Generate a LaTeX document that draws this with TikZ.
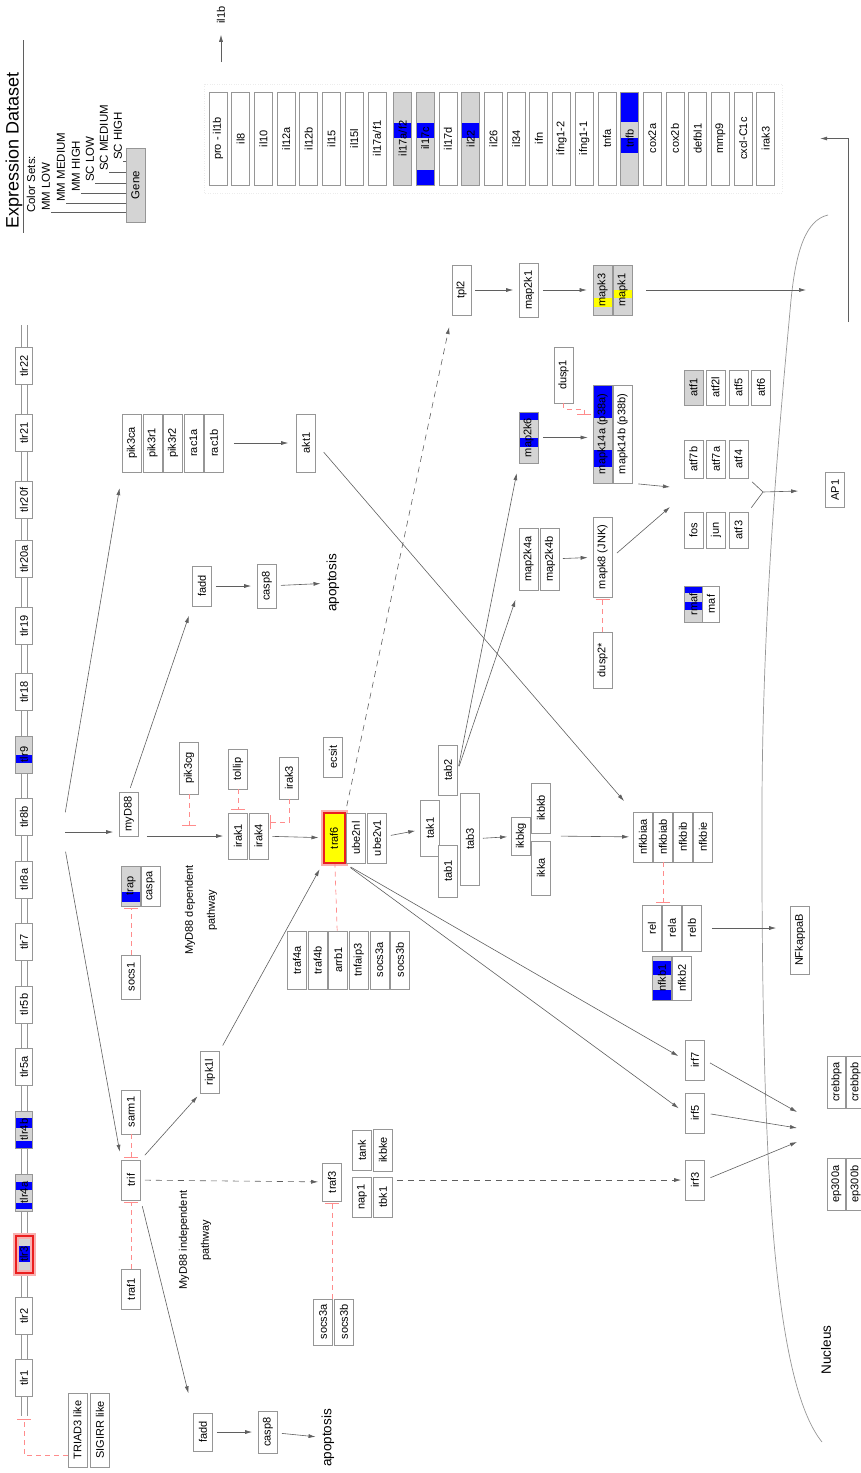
\documentclass[tikz,border=0pt]{standalone}
\usepackage{fontspec}
\setmainfont{Liberation Sans}
\usetikzlibrary{arrows.meta}

\definecolor{boxgray}{RGB}{150,150,150}
\definecolor{linegray}{RGB}{95,95,95}
\definecolor{exgray}{RGB}{212,212,212}
\definecolor{exblue}{RGB}{0,0,255}
\definecolor{exyellow}{RGB}{255,255,0}
\definecolor{inhpink}{RGB}{255,140,140}
\definecolor{hired}{RGB}{235,30,30}

\newcommand{\genefont}{\fontsize{11}{13}\selectfont}

\tikzset{
  gene/.style={draw=boxgray, line width=0.7pt, fill=white, rotate=90, inner sep=0pt,
    minimum height=19pt, minimum width=#1, font=\genefont},
  gene/.default=40,
  legend/.style={rotate=90, anchor=west, inner sep=1pt, font=\fontsize{11.5}{13}\selectfont},
  biglbl/.style={rotate=90, inner sep=0pt, font=\fontsize{13.5}{16}\selectfont},
  pathlbl/.style={rotate=90, inner sep=0pt, align=center, font=\fontsize{11}{22}\selectfont},
  legline/.style={draw=linegray, line width=0.6pt},
  arr/.style={draw=linegray, line width=0.6pt, -{Latex[length=7pt,width=4pt]}},
  darr/.style={arr, dash pattern=on 6pt off 5pt},
  plain/.style={draw=linegray, line width=0.6pt},
  inh/.style={draw=inhpink, line width=0.7pt, dash pattern=on 5pt off 4pt, -{Bar[width=14pt]}},
  pinkdash/.style={draw=inhpink, line width=0.7pt, dash pattern=on 5pt off 4pt},
  glow/.style={draw=hired, line width=2pt, preaction={draw=hired!35, line width=6pt}},
}

\begin{document}
\begin{tikzpicture}[x=1pt,y=-1pt]
\useasboundingbox (0,0) rectangle (861,1473);

% legend
\node[rotate=90, anchor=west, inner sep=0pt, font=\fontsize{18}{20}\selectfont] (title) at (14,229) {Expression Dataset};
\draw[legline] (23,40) -- (23,233);
\node[legend] (colsets) at (31,214) {Color Sets:};
\node[gene=74, fill=exgray, font=\fontsize{11.5}{13}\selectfont] (genekey) at (135.5,185) {Gene};
\foreach \n/\lab/\lx/\ly in {mmlow/MM LOW/46/212, mmmed/MM MEDIUM/61/203, mmhigh/MM HIGH/76/193,
    sclow/SC LOW/90/183, scmed/SC MEDIUM/104/172, schigh/SC HIGH/118/161} {
  \node[legend] (\n) at (\lx,\ly) {\lab};
  \draw[legline] (\n.south west) -- (genekey.north |- \n.south west);
}

% cytokines and other targets
\draw[gray!15, dotted] (204,84) rectangle (782,193);
\fill[exgray] (393.6,92) rectangle (411.6,185);
\fill[exblue] (393.6,123) rectangle (411.6,138);
\fill[exgray] (416.3,92) rectangle (434.3,185);
\fill[exblue] (416.3,123) rectangle (434.3,138);
\fill[exblue] (416.3,170) rectangle (434.3,185);
\fill[exgray] (461.7,92) rectangle (479.7,185);
\fill[exblue] (461.7,123) rectangle (479.7,138);
\fill[exgray] (620.6,92) rectangle (638.6,185);
\fill[exblue] (620.6,92) rectangle (638.6,122);
\fill[exblue] (620.6,138) rectangle (638.6,153);
\foreach \lab [count=\i from 0] in {pro - il1b, il8, il10, il12a, il12b, il15, il15l, il17a/f1,
    il17a/f2, il17c, il17d, il22, il26, il34, ifn, ifng1-2, ifng1-1, tnfa, tnfb, cox2a, cox2b,
    defbl1, mmp9, cxcl-C1c, irak3} {
  \pgfmathsetmacro{\cx}{218+22.7*\i+(\i>7)*3}
  \node[gene=93, minimum height=18, fill=none] (cyt\i) at (\cx,138.5) {\lab};
}
\node[rotate=90, inner sep=0pt, font=\genefont] (il1b) at (221,15) {il1b};
\coordinate (il1btail) at (221,62);
\draw[arr, shorten >=11pt] (il1btail) -- (il1b);

% membrane with the receptors
\draw[boxgray, line width=0.7pt] (21,325) -- (21,1416);
\draw[boxgray, line width=0.7pt] (27,325) -- (27,1416);
\foreach \t/\ty in {tlr22/366, tlr21/433, tlr20f/500, tlr20a/559, tlr19/626, tlr18/692,
    tlr8b/817, tlr8a/879.5, tlr7/942, tlr5b/1004.5, tlr5a/1067, tlr2/1316, tlr1/1378}
  \node[gene=37, minimum height=17] (\t) at (24,\ty) {\t};
\fill[exgray] (15.5,736) rectangle (32.5,773);
\fill[exblue] (15.5,755) rectangle (32.5,763);
\node[gene=37, minimum height=17, fill=none] (tlr9) at (24,754.5) {tlr9};
\fill[exgray] (15.5,1111) rectangle (32.5,1148);
\fill[exblue] (15.5,1118) rectangle (32.5,1128);
\fill[exblue] (15.5,1141) rectangle (32.5,1148);
\node[gene=37, minimum height=17, fill=none] (tlr4b) at (24,1129.5) {tlr4b};
\fill[exgray] (15.5,1174) rectangle (32.5,1211);
\fill[exblue] (15.5,1182) rectangle (32.5,1190);
\fill[exblue] (15.5,1203) rectangle (32.5,1209);
\node[gene=37, minimum height=17, fill=none] (tlr4a) at (24,1192.5) {tlr4a};
\fill[exgray] (15.5,1235.5) rectangle (32.5,1272.5);
\fill[exblue] (15.5,1246) rectangle (32.5,1262);
\node[gene=37, minimum height=17, fill=none, glow] (tlr3) at (24,1254) {tlr3};

\node[gene=74] (triad) at (77.5,1430) {TRIAD3 like};
\node[gene=74] (sigirr) at (100,1430) {SIGIRR like};
\coordinate (memend) at (24,1419);
\draw[inh] ([yshift=-25pt]triad.north) -| (memend);

% MyD88 dependent branch
\coordinate (hub) at (62,832);
\node[gene=44] (myd88) at (129,814) {myD88};
\fill[exgray] (121.5,866) rectangle (140.5,906);
\fill[exblue] (121.5,892) rectangle (140.5,902);
\node[gene=40, fill=none] (trap) at (131,886) {trap};
\node[gene=40] (caspa) at (150.5,886) {caspa};
\node[gene=44] (socs1) at (131,977) {socs1};
\node[gene=52] (pik3cg) at (189,768) {pik3cg};
\node[gene=40] (tollip) at (238,769) {tollip};
\node[gene=42] (irak3) at (289,778) {irak3};
\node[gene=46] (irak1) at (238,836) {irak1};
\node[gene=46] (irak4) at (258.5,836) {irak4};
\node[gene=40] (ecsit) at (333,757) {ecsit};
\node[gene=50, minimum height=21, fill=exyellow, glow] (traf6) at (334,838) {traf6};
\node[gene=50] (ube2nl) at (356,838) {ube2nl};
\node[gene=50] (ube2v1) at (377,838) {ube2v1};
\foreach \n/\lab [count=\i from 0] in {traf4a/traf4a, traf4b/traf4b, arrb1/arrb1,
    tnfaip3/tnfaip3, socs3a/socs3a, socs3b/socs3b}
  \node[gene=58] (\n) at ({297+20.6*\i},960) {\lab};
\node[pathlbl] (deplbl) at (201,910) {MyD88 dependent\\pathway};

\node[gene=56] (tak1) at (430,828) {tak1};
\node[gene=50] (tab2) at (448,770) {tab2};
\node[gene=52] (tab1) at (448,871) {tab1};
\node[gene=92] (tab3) at (470,839) {tab3};
\node[gene=38] (ikbkg) at (521,836) {ikbkg};
\node[gene=50] (ikbkb) at (541,808) {ikbkb};
\node[gene=54] (ikka) at (541,868) {ikka};
\foreach \n [count=\i from 0] in {nfkbiaa, nfkbiab, nfkbib, nfkbie}
  \node[gene=50] (\n) at ({643+20*\i},837) {\n};
\foreach \n [count=\i from 0] in {rel, rela, relb}
  \node[gene=46] (\n) at ({652+20*\i},928) {\n};
\fill[exgray] (652.5,956) rectangle (671.5,1000);
\fill[exblue] (652.5,961) rectangle (671.5,975);
\fill[exblue] (652.5,990) rectangle (671.5,1000);
\node[gene=44, fill=none] (nfkb1) at (662,978) {nfkb1};
\node[gene=44] (nfkb2) at (682,978) {nfkb2};
\node[gene=68] (nfkappab) at (800,940) {NFkappaB};

% upper branch
\foreach \n [count=\i from 0] in {pik3ca, pik3r1, pik3r2, rac1a, rac1b}
  \node[gene=58] (\n) at ({132+20.5*\i},443) {\n};
\node[gene=58] (akt1) at (306,443) {akt1};
\node[gene=40] (fadda) at (202,586) {fadd};
\node[gene=44] (casp8a) at (267,586) {casp8};
\node[biglbl] (apopa) at (333,583) {apoptosis};

% MyD88 independent branch
\node[gene=44] (sarm1) at (131,1112) {sarm1};
\node[gene=40] (trif) at (131,1180) {trif};
\node[gene=40] (traf1) at (131,1289) {traf1};
\node[gene=42] (ripk1l) at (210,1072) {ripk1l};
\node[pathlbl] (indeplbl) at (195,1240) {MyD88 independent\\pathway};
\node[gene=38] (traf3) at (332,1182) {traf3};
\node[gene=40] (tank) at (362,1150) {tank};
\node[gene=42] (ikbke) at (383,1150) {ikbke};
\node[gene=40] (nap1) at (362,1197) {nap1};
\node[gene=40] (tbk1) at (383,1197) {tbk1};
\node[gene=46] (socs3c) at (323,1322) {socs3a};
\node[gene=46] (socs3d) at (344,1322) {socs3b};
\node[gene=38] (faddb) at (203,1432) {fadd};
\node[gene=42] (casp8b) at (268,1432) {casp8};
\node[biglbl] (apopb) at (328,1438) {apoptosis};
\node[gene=40] (irf7) at (695,1060) {irf7};
\node[gene=40] (irf5) at (695,1113) {irf5};
\node[gene=40] (irf3) at (695,1180) {irf3};

% MAP kinase branch
\node[gene=50] (tpl2) at (461.5,290) {tpl2};
\node[gene=54] (map2k1) at (529,290) {map2k1};
\fill[exgray] (593,265) rectangle (612,315);
\fill[exyellow] (593,298) rectangle (612,307);
\node[gene=50, fill=none] (mapk3) at (602.5,290) {mapk3};
\fill[exgray] (613,265) rectangle (632,315);
\fill[exyellow] (613,290) rectangle (632,298);
\node[gene=50, fill=none] (mapk1) at (622.5,290) {mapk1};
\node[gene=56] (dusp1) at (563.5,375) {dusp1};
\fill[exgray] (519,412) rectangle (538,463);
\fill[exblue] (519,412) rectangle (538,420);
\fill[exblue] (519,438) rectangle (538,447);
\node[gene=51, fill=none] (map2k6) at (528.5,437.5) {map2k6};
\fill[exgray] (593,385) rectangle (612,483);
\fill[exblue] (593,385) rectangle (612,418);
\fill[exblue] (593,450) rectangle (612,467);
\node[gene=98, fill=none] (mapk14a) at (602.5,434) {mapk14a (p38a)};
\node[gene=98] (mapk14b) at (622.5,434) {mapk14b (p38b)};
\node[gene=62] (map2k4a) at (528.5,559) {map2k4a};
\node[gene=62] (map2k4b) at (550,559) {map2k4b};
\node[gene=80] (mapk8) at (602.5,557) {mapk8 (JNK)};
\node[gene=56] (dusp2) at (602.5,660) {dusp2*};
\fill[exgray] (684,370) rectangle (703,405);
\node[gene=35, fill=none] (atf1) at (693.5,387.5) {atf1};
\node[gene=35] (atf2l) at (715.5,387.5) {atf2l};
\node[gene=35] (atf5) at (738.5,387.5) {atf5};
\node[gene=35] (atf6) at (761,387.5) {atf6};
\node[gene=38] (atf7b) at (693.5,459) {atf7b};
\node[gene=38] (atf7a) at (716,459) {atf7a};
\node[gene=38] (atf4) at (738.5,459) {atf4};
\node[gene=36] (fos) at (693.5,530) {fos};
\node[gene=36] (jun) at (716,530) {jun};
\node[gene=36] (atf3) at (738.5,530) {atf3};
\fill[exgray] (684.5,586) rectangle (702.5,622);
\fill[exblue] (684.5,586) rectangle (702.5,593);
\fill[exblue] (684.5,602) rectangle (702.5,610);
\node[gene=36, minimum height=18, fill=none] (rmaf) at (693.5,604) {rmaf};
\node[gene=36, minimum height=17] (maf) at (711,604) {maf};
\node[gene=35] (ap1) at (835,490) {AP1};

% nucleus
\draw[boxgray, line width=0.7pt] (828,215) .. controls (806,220) and (796,250) .. (791,300)
  .. controls (780,420) and (763,600) .. (762,800)
  .. controls (761,1150) and (772,1380) .. (822,1442);
\node[biglbl] (nuclbl) at (826,1350) {Nucleus};
\node[gene=52, minimum height=18] (crebbpa) at (836.5,1082) {crebbpa};
\node[gene=52, minimum height=18] (crebbpb) at (855.5,1082) {crebbpb};
\node[gene=52, minimum height=18] (ep300a) at (836.5,1184) {ep300a};
\node[gene=52, minimum height=18] (ep300b) at (855.5,1184) {ep300b};

% connectors
\draw[arr, shorten <=20pt, shorten >=16pt] (hub) -- (pik3ca.north west);
\draw[arr, shorten <=3pt, shorten >=6pt] (hub) -- (myd88.north |- hub);
\draw[arr, shorten <=20pt, shorten >=8pt] (hub) -- (trif.north east);
\draw[arr, shorten <=4pt, shorten >=10pt] (myd88.east) -- (fadda.north west);
\draw[arr, shorten <=8pt, shorten >=5pt] (myd88.south |- irak1) -- (irak1);
\draw[arr, shorten <=10pt, shorten >=8pt] (rac1b) -- (akt1);
\draw[arr, shorten <=12pt, shorten >=14pt] (akt1.south) -- (nfkbiaa.north east);
\draw[arr, shorten <=4pt, shorten >=6pt] (fadda) -- (casp8a);
\draw[arr, shorten <=4pt, shorten >=6pt] (casp8a) -- (apopa);
\draw[inh, shorten >=10pt] (pik3cg.west) -- (pik3cg.west |- irak1);
\draw[inh, shorten >=3pt] (tollip) -- (irak1);
\draw[inh, shorten >=2pt] (irak3.west) |- ([yshift=14pt]irak4.south);
\draw[inh, shorten >=2pt] (socs1) -- (trap);
\draw[arr, shorten <=4pt, shorten >=4pt] (irak4) -- (traf6);
\draw[pinkdash] (arrb1) -- (traf6);
\draw[arr, shorten <=4pt, shorten >=5pt] (ube2v1) -- (tak1);
\draw[arr, shorten <=3pt, shorten >=4pt] (tab3) -- (ikbkg);
\draw[arr, shorten <=10pt, shorten >=4pt] (ikka.south |- ikbkg) -- (nfkbiaa);
\draw[inh, shorten >=2pt] (nfkbiab.west) -- (nfkbiab.west |- rela.east);
\draw[arr, shorten <=10pt, shorten >=14pt] (relb.south) -- (nfkappab.north |- relb.south);

\draw[inh, shorten >=2pt] (sarm1) -- (trif);
\draw[inh, shorten >=2pt] (traf1) -- (trif);
\draw[arr, shorten <=6pt, shorten >=4pt] (trif.south east) -- (ripk1l.north west);
\draw[arr, shorten <=6pt, shorten >=6pt] (ripk1l.south east) -- (traf6.north west);
\draw[darr, shorten <=4pt, shorten >=4pt] (trif) -- (traf3);
\draw[arr, shorten <=6pt, shorten >=20pt] (trif.south west) -- (faddb.north east);
\draw[arr, shorten <=4pt, shorten >=6pt] (faddb) -- (casp8b);
\draw[arr, shorten <=4pt, shorten >=6pt] (casp8b) -- (apopb);
\draw[inh, shorten >=2pt] (traf3.west |- socs3c.east) -- (traf3.west);
\draw[darr, shorten <=4pt, shorten >=4pt] (tbk1.south |- irf3) -- (irf3);
\draw[arr, shorten <=6pt, shorten >=8pt] (traf6.south west) -- (irf7.north);
\draw[arr, shorten <=6pt, shorten >=8pt] (traf6.south west) -- (irf5.north);
\coordinate (irfend1) at (797,1112);
\coordinate (irfend2) at (797,1128);
\coordinate (irfend3) at (797,1142);
\draw[arr, shorten <=6pt] (irf7.south) -- (irfend1);
\draw[arr, shorten <=6pt] (irf5.south) -- (irfend2);
\draw[arr, shorten <=6pt] (irf3.south) -- (irfend3);

\draw[darr, shorten <=6pt, shorten >=12pt] (traf6.south east) -- (tpl2.north west);
\coordinate (mapkout) at (806,290);
\draw[arr, shorten <=4pt, shorten >=6pt] (tpl2) -- (map2k1);
\draw[arr, shorten <=4pt, shorten >=6pt] (map2k1) -- (mapk3);
\draw[arr, shorten <=14pt] (mapk1) -- (mapkout);
\draw[arr, shorten <=4pt, shorten >=10pt] (tab2.south) -- (map2k6.north west);
\draw[arr, shorten <=4pt, shorten >=10pt] (tab2.south) -- (map2k4a.north west);
\draw[arr, shorten <=5pt, shorten >=5pt] (map2k6) -- (mapk14a.north |- map2k6);
\draw[arr, shorten <=3pt, shorten >=5pt] (map2k4b) -- (mapk8);
\coordinate (dusptee) at (584,415);
\draw[inh] (dusp1.west) |- ([yshift=6pt]dusptee) -- (dusptee);
\draw[inh, shorten >=2pt] (dusp2) -- (mapk8);
\coordinate (atfin1) at (670,487);
\coordinate (atfin2) at (670,507);
\draw[arr, shorten <=6pt] (mapk14b.south west) -- (atfin1);
\draw[arr, shorten <=6pt] (mapk8.south) -- (atfin2);
\coordinate (apjoin) at (763,492);
\draw[plain, shorten <=5pt] (atf4.south west) -- (apjoin);
\draw[plain, shorten <=5pt] (atf3.south east) -- (apjoin);
\draw[arr, shorten >=27pt] (apjoin) -- (ap1);
\coordinate (nucout) at (848,322);
\draw[arr, shorten >=45pt] (nucout) |- (cyt24.south);
\end{tikzpicture}
\end{document}
